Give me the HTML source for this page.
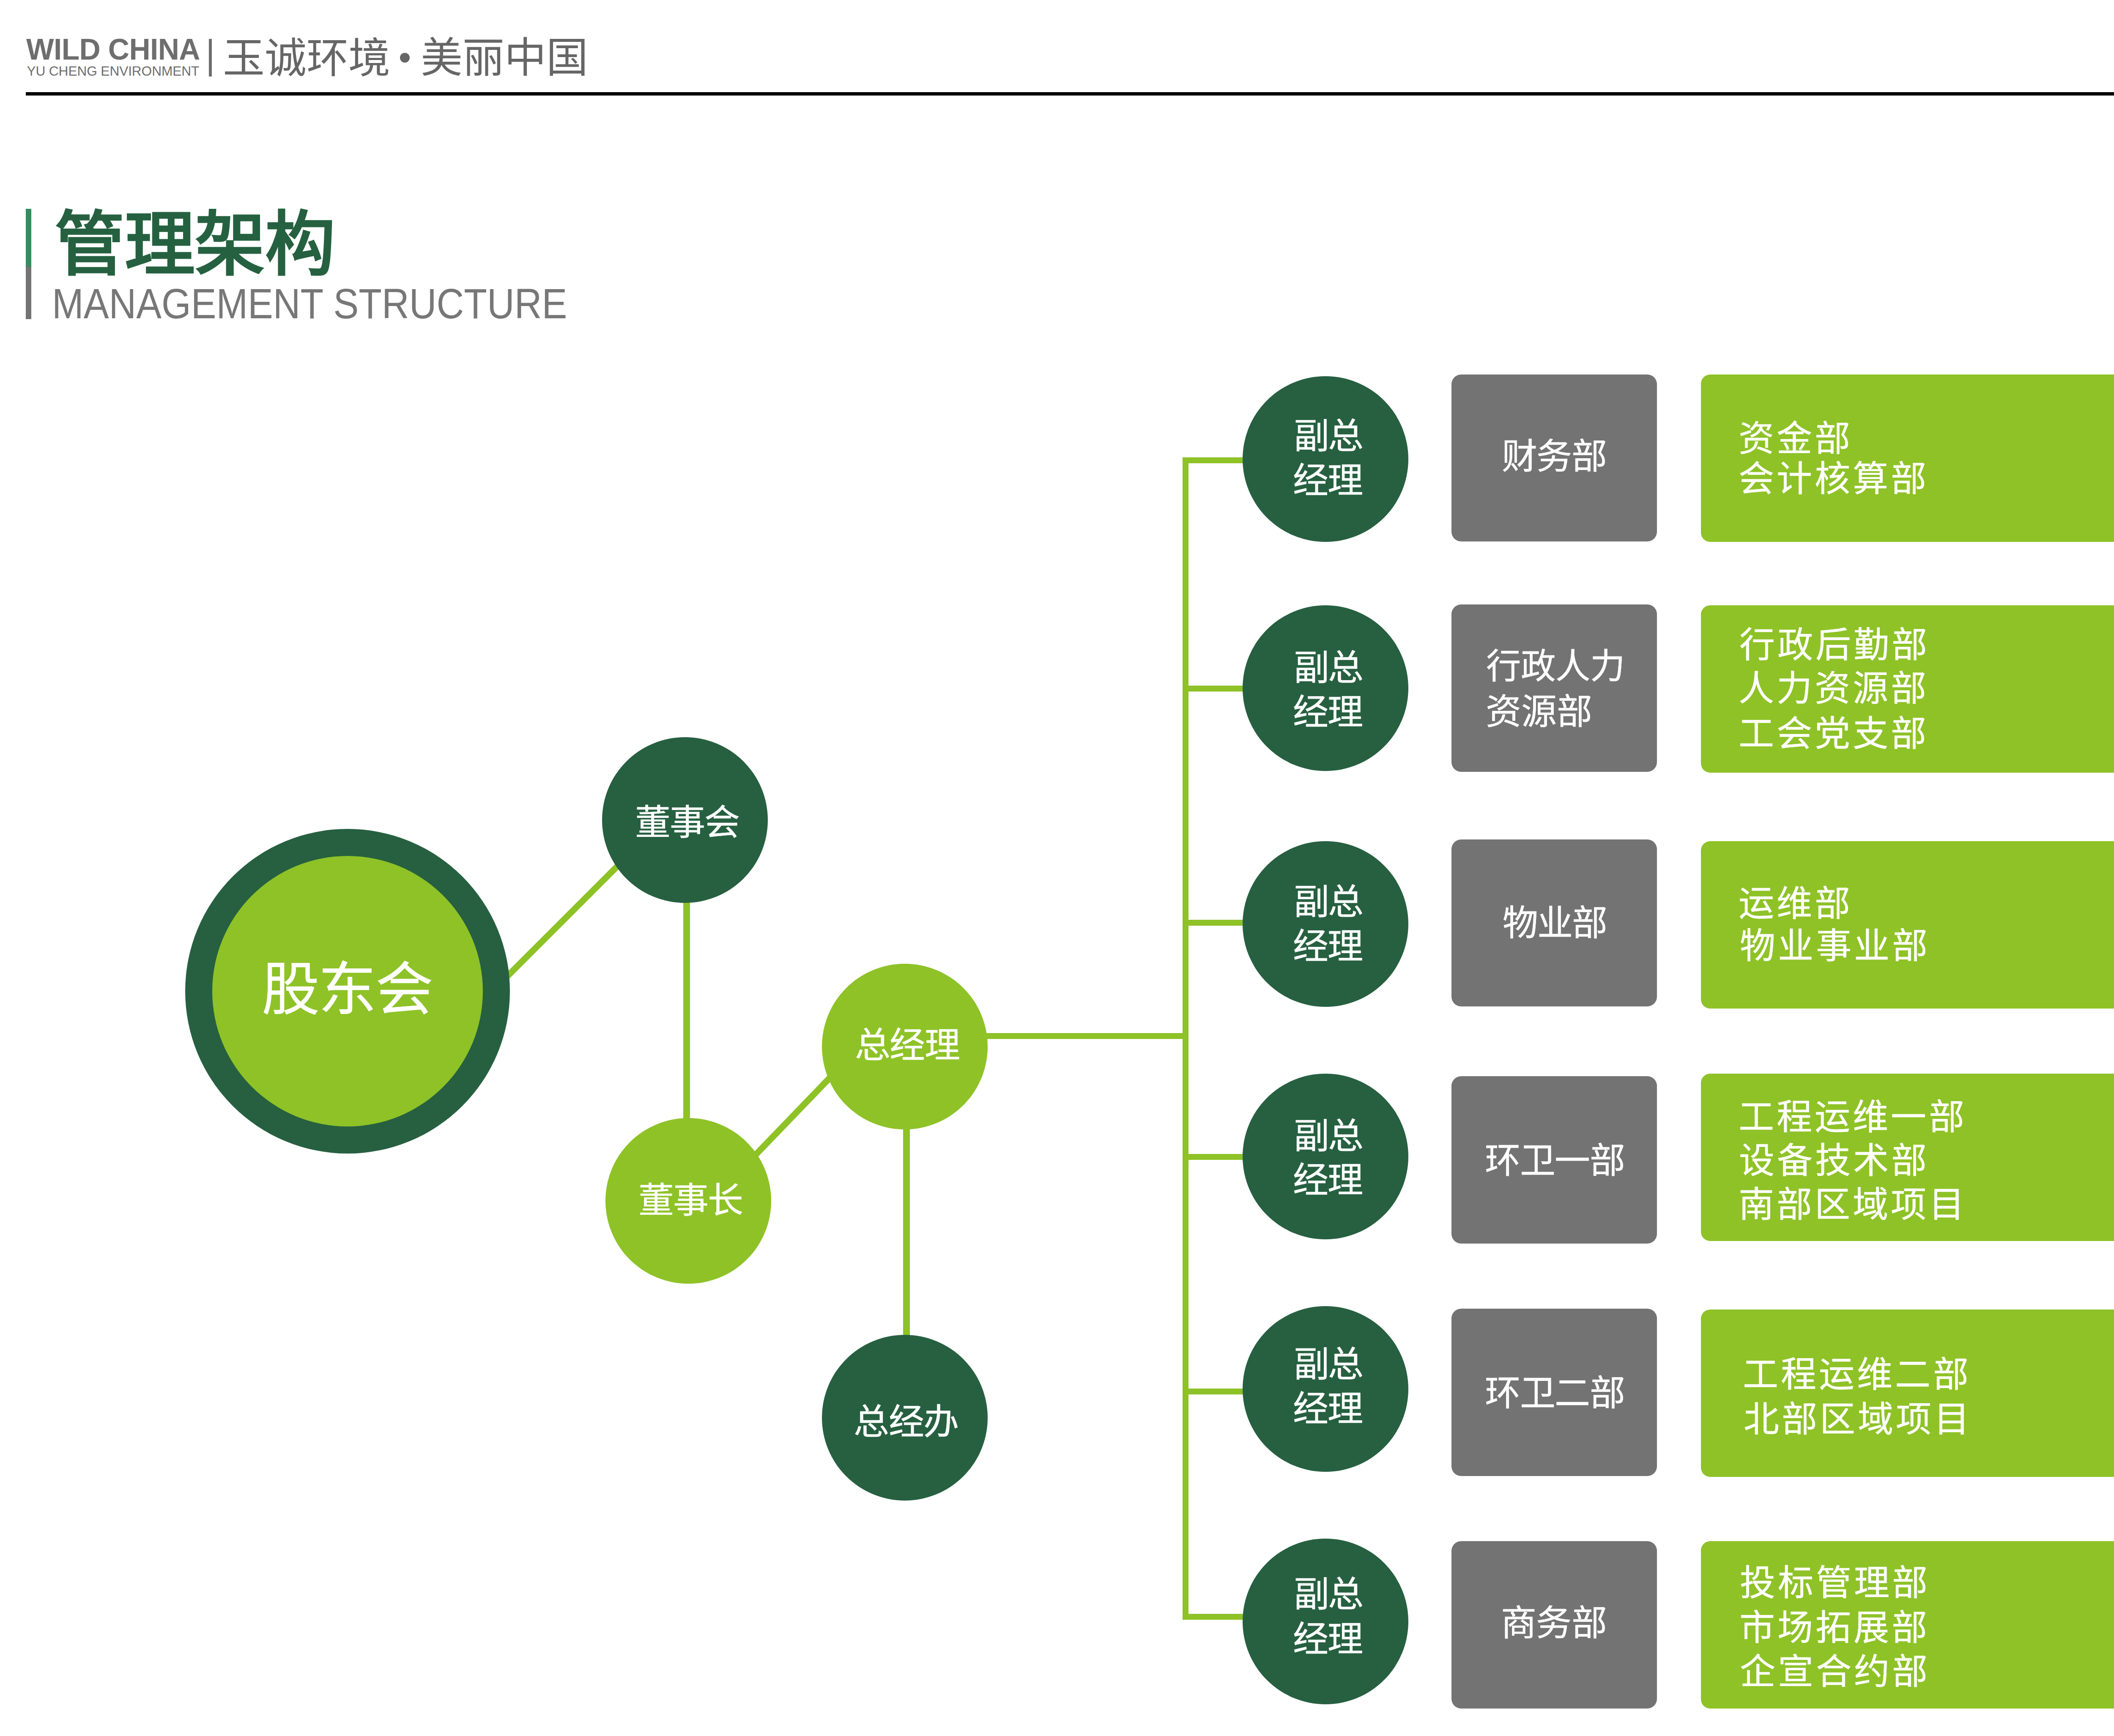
<!DOCTYPE html>
<html lang="zh-CN">
<head>
<meta charset="utf-8">
<style>
html,body{margin:0;padding:0;background:#fff;}
body{width:5086px;height:4107px;position:relative;overflow:hidden;font-family:"Liberation Sans",sans-serif;}
div{position:absolute;}
.t{white-space:nowrap;line-height:1;}
.w{-webkit-text-stroke:0.6px #fff;}
.c{border-radius:50%;}
.dk{background:#266040;}
.lt{background:#8ec227;}
.gb{background:#737373;border-radius:23px;left:3433px;width:486px;}
.gr{background:#8ec227;border-radius:22px;left:4023px;width:1010px;}
.ln{background:#8ec227;}
.g{letter-spacing:6px;}
</style>
</head>
<body>

<div class="t" style="left:62.0px;top:83.4px;font-size:69.5px;color:#6e6e6e;font-weight:bold;letter-spacing:-0.6px;">WILD CHINA</div>
<div class="t" style="left:63.4px;top:152.9px;font-size:31.7px;color:#6e6e6e;letter-spacing:-0.12px;">YU CHENG ENVIRONMENT</div>
<div style="left:494px;top:91.5px;width:7px;height:89px;background:#6e6e6e;"></div>
<div class="t" style="left:526.6px;top:88.3px;font-size:99px;color:#666;">玉诚环境</div>
<div class="c" style="left:946px;top:124.5px;width:23px;height:23px;background:#666;"></div>
<div class="t" style="left:994.5px;top:86.6px;font-size:99px;color:#666;">美丽中国</div>
<div style="left:61px;top:218px;width:5025px;height:8px;background:#000;"></div>
<div style="left:61px;top:493.5px;width:13px;height:138.5px;background:#3a8a5e;"></div>
<div style="left:61px;top:632px;width:13px;height:122.5px;background:#737373;"></div>
<div class="t" style="left:129.2px;top:495.7px;font-size:166px;color:#256140;font-weight:bold;">管理架构</div>
<div class="t" style="left:122.8px;top:669.0px;font-size:99.7px;color:#777;transform:scaleX(0.899);transform-origin:0 0;">MANAGEMENT STRUCTURE</div>
<svg style="position:absolute;left:0;top:0" width="5086" height="4107">
<line x1="1150" y1="2359.5" x2="1520" y2="1989.5" stroke="#8ec227" stroke-width="15"/>
<line x1="1740" y1="2781" x2="2000" y2="2511" stroke="#8ec227" stroke-width="15"/>
</svg>
<div class="ln" style="left:1616px;top:2100px;width:16px;height:580px;"></div>
<div class="ln" style="left:2136px;top:2640px;width:16px;height:560px;"></div>
<div class="ln" style="left:2300px;top:2444px;width:511px;height:14px;"></div>
<div class="ln" style="left:2797px;top:1082px;width:14px;height:2750px;"></div>
<div class="ln" style="left:2797px;top:1082px;width:180px;height:14px;"></div>
<div class="ln" style="left:2797px;top:1622px;width:180px;height:14px;"></div>
<div class="ln" style="left:2797px;top:2176px;width:180px;height:14px;"></div>
<div class="ln" style="left:2797px;top:2730px;width:180px;height:14px;"></div>
<div class="ln" style="left:2797px;top:3285px;width:180px;height:14px;"></div>
<div class="ln" style="left:2797px;top:3818px;width:180px;height:14px;"></div>
<div class="c dk" style="left:437.5px;top:1960.5px;width:768px;height:768px;"></div>
<div class="c lt" style="left:501.5px;top:2024.5px;width:640px;height:640px;"></div>
<div class="t w" style="left:618.7px;top:2272.5px;font-size:137px;color:#fff;letter-spacing:-2.5px;">股东会</div>
<div class="c dk" style="left:1424px;top:1744px;width:392px;height:392px;"></div>
<div class="t w" style="left:1501.7px;top:1903.5px;font-size:84px;color:#fff;letter-spacing:-1.6px;">董事会</div>
<div class="c lt" style="left:1432px;top:2645px;width:392px;height:392px;"></div>
<div class="t w" style="left:1509.7px;top:2797.9px;font-size:84px;color:#fff;letter-spacing:-1.75px;">董事长</div>
<div class="c lt" style="left:1944px;top:2279.5px;width:392px;height:392px;"></div>
<div class="t w" style="left:2021.6px;top:2431.1px;font-size:84px;color:#fff;letter-spacing:-1.5px;">总经理</div>
<div class="c dk" style="left:1944px;top:3157.5px;width:392px;height:392px;"></div>
<div class="t w" style="left:2019.0px;top:3322.4px;font-size:84px;color:#fff;letter-spacing:-1.3px;">总经办</div>
<div class="c dk" style="left:2939px;top:889.7px;width:392px;height:392px;"></div>
<div class="t w" style="left:3059.7px;top:989.5px;font-size:84px;color:#fff;letter-spacing:-2.5px;">副总</div>
<div class="t w" style="left:3058.1px;top:1094.5px;font-size:84px;color:#fff;letter-spacing:-2.5px;">经理</div>
<div class="c dk" style="left:2939px;top:1431.5px;width:392px;height:392px;"></div>
<div class="t w" style="left:3059.7px;top:1537.6px;font-size:84px;color:#fff;letter-spacing:-2.5px;">副总</div>
<div class="t w" style="left:3058.1px;top:1643.4px;font-size:84px;color:#fff;letter-spacing:-2.5px;">经理</div>
<div class="c dk" style="left:2939px;top:1989.5px;width:392px;height:392px;"></div>
<div class="t w" style="left:3059.7px;top:2091.7px;font-size:84px;color:#fff;letter-spacing:-2.5px;">副总</div>
<div class="t w" style="left:3058.1px;top:2197.1px;font-size:84px;color:#fff;letter-spacing:-2.5px;">经理</div>
<div class="c dk" style="left:2939px;top:2540.0px;width:392px;height:392px;"></div>
<div class="t w" style="left:3059.7px;top:2645.8px;font-size:84px;color:#fff;letter-spacing:-2.5px;">副总</div>
<div class="t w" style="left:3058.1px;top:2749.6px;font-size:84px;color:#fff;letter-spacing:-2.5px;">经理</div>
<div class="c dk" style="left:2939px;top:3089.5px;width:392px;height:392px;"></div>
<div class="t w" style="left:3059.7px;top:3185.5px;font-size:84px;color:#fff;letter-spacing:-2.5px;">副总</div>
<div class="t w" style="left:3058.1px;top:3291.2px;font-size:84px;color:#fff;letter-spacing:-2.5px;">经理</div>
<div class="c dk" style="left:2939px;top:3640.2px;width:392px;height:392px;"></div>
<div class="t w" style="left:3059.7px;top:3729.6px;font-size:84px;color:#fff;letter-spacing:-2.5px;">副总</div>
<div class="t w" style="left:3058.1px;top:3835.7px;font-size:84px;color:#fff;letter-spacing:-2.5px;">经理</div>
<div class="gb" style="top:886px;height:395px;"></div>
<div class="gb" style="top:1430px;height:395.5px;"></div>
<div class="gb" style="top:1986px;height:395px;"></div>
<div class="gb" style="top:2546px;height:396px;"></div>
<div class="gb" style="top:3096px;height:396px;"></div>
<div class="gb" style="top:3646px;height:396px;"></div>
<div class="t w" style="left:3551.5px;top:1037.6px;font-size:84px;color:#fff;letter-spacing:-1.4px;">财务部</div>
<div class="t w" style="left:3515.2px;top:1535.1px;font-size:82.5px;color:#fff;">行政人力</div>
<div class="t w" style="left:3514.0px;top:1641.7px;font-size:84px;color:#fff;">资源部</div>
<div class="t w" style="left:3553.6px;top:2141.8px;font-size:84px;color:#fff;letter-spacing:-1.55px;">物业部</div>
<div class="t w" style="left:3512.1px;top:2704.2px;font-size:84px;color:#fff;letter-spacing:-1.37px;">环卫一部</div>
<div class="t w" style="left:3512.1px;top:3254.2px;font-size:84px;color:#fff;letter-spacing:-1.37px;">环卫二部</div>
<div class="t w" style="left:3549.9px;top:3797.6px;font-size:84px;color:#fff;letter-spacing:-0.4px;">商务部</div>
<div class="gr" style="top:886px;height:396px;"></div>
<div class="gr" style="top:1432px;height:395.5px;"></div>
<div class="gr" style="top:1990px;height:396px;"></div>
<div class="gr" style="top:2540px;height:396px;"></div>
<div class="gr" style="top:3098px;height:396px;"></div>
<div class="gr" style="top:3646px;height:396px;"></div>
<div class="t g w" style="left:4111.8px;top:996.0px;font-size:84px;color:#fff;">资金部</div>
<div class="t g w" style="left:4111.8px;top:1091.0px;font-size:84px;color:#fff;">会计核算部</div>
<div class="t g w" style="left:4113.5px;top:1484.4px;font-size:84px;color:#fff;">行政后勤部</div>
<div class="t g w" style="left:4111.8px;top:1587.2px;font-size:84px;color:#fff;">人力资源部</div>
<div class="t g w" style="left:4111.8px;top:1694.0px;font-size:84px;color:#fff;">工会党支部</div>
<div class="t g w" style="left:4112.2px;top:2096.3px;font-size:84px;color:#fff;">运维部</div>
<div class="t g w" style="left:4114.9px;top:2196.3px;font-size:84px;color:#fff;">物业事业部</div>
<div class="t g w" style="left:4112.3px;top:2600.6px;font-size:84px;color:#fff;">工程运维一部</div>
<div class="t g w" style="left:4113.1px;top:2703.9px;font-size:84px;color:#fff;">设备技术部</div>
<div class="t g w" style="left:4111.5px;top:2807.7px;font-size:84px;color:#fff;">南部区域项目</div>
<div class="t g w" style="left:4122.1px;top:3210.1px;font-size:84px;color:#fff;">工程运维二部</div>
<div class="t g w" style="left:4124.3px;top:3315.6px;font-size:84px;color:#fff;">北部区域项目</div>
<div class="t g w" style="left:4114.5px;top:3702.6px;font-size:84px;color:#fff;">投标管理部</div>
<div class="t g w" style="left:4113.7px;top:3808.6px;font-size:84px;color:#fff;">市场拓展部</div>
<div class="t g w" style="left:4114.5px;top:3913.3px;font-size:84px;color:#fff;">企宣合约部</div>
</body>
</html>
